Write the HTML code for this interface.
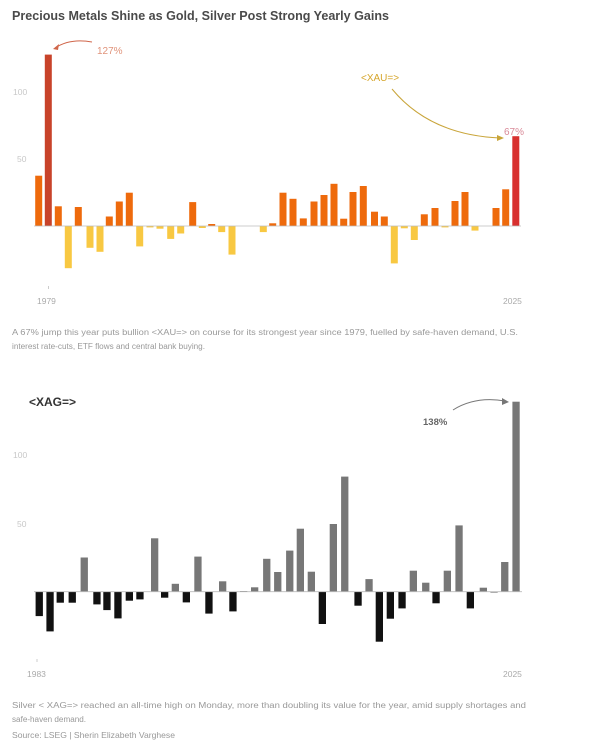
<!DOCTYPE html>
<html><head><meta charset="utf-8"><style>
html,body{margin:0;padding:0;background:#fff;}
svg{display:block;font-family:"Liberation Sans",sans-serif;}
</style></head><body>
<svg width="600" height="753" viewBox="0 0 600 753" xmlns="http://www.w3.org/2000/svg">
<rect width="600" height="753" fill="#fff"/>
<text x="12" y="20" font-size="12.5" font-weight="bold" fill="#4a4a4a" textLength="377" lengthAdjust="spacingAndGlyphs">Precious Metals Shine as Gold, Silver Post Strong Yearly Gains</text>
<text x="13" y="95" font-size="8.5" fill="#c8c8c8">100</text>
<text x="17" y="162" font-size="8.5" fill="#c8c8c8">50</text>
<g id="gtop"></g>
<line x1="34" y1="226" x2="521" y2="226" stroke="#bbb" stroke-width="0.8"/>
<text x="97" y="54" font-size="10" fill="#e0937a">127%</text>
<path d="M92,42 Q70,38 55,48" fill="none" stroke="#d0664a" stroke-width="1"/>
<path d="M53,49 L59,44 L58,50 Z" fill="#d0664a"/>
<text x="361" y="81" font-size="10" fill="#d6a62c">&lt;XAU=&gt;</text>
<path d="M392,89 Q430,135 500,138" fill="none" stroke="#c9a53a" stroke-width="1"/>
<path d="M504,138 L497,135 L497,141 Z" fill="#c9a53a"/>
<text x="504" y="135" font-size="10" fill="#d98a98">67%</text>
<line x1="48.5" y1="286" x2="48.5" y2="289" stroke="#ccc"/>
<text x="37" y="304" font-size="8.5" fill="#aaa">1979</text>
<text x="503" y="304" font-size="8.5" fill="#aaa">2025</text>
<text x="12" y="335" font-size="8" fill="#999" textLength="506" lengthAdjust="spacingAndGlyphs">A 67% jump this year puts bullion &lt;XAU=&gt; on course for its strongest year since 1979, fuelled by safe-haven demand, U.S.</text>
<text x="12" y="349" font-size="8" fill="#999" textLength="193" lengthAdjust="spacingAndGlyphs">interest rate-cuts, ETF flows and central bank buying.</text>

<text x="29" y="406" font-size="12" font-weight="bold" fill="#333">&lt;XAG=&gt;</text>
<text x="13" y="458" font-size="8.5" fill="#c8c8c8">100</text>
<text x="17" y="527" font-size="8.5" fill="#c8c8c8">50</text>
<g id="gbot"></g>
<line x1="34" y1="591.7" x2="522" y2="591.7" stroke="#bbb" stroke-width="0.8"/>
<text x="423" y="425" font-size="9.5" font-weight="bold" fill="#666">138%</text>
<path d="M453,410 Q475,396 505,401" fill="none" stroke="#777" stroke-width="1"/>
<path d="M509,402 L502,398 L502,405 Z" fill="#777"/>
<line x1="37" y1="659" x2="37" y2="662" stroke="#ccc"/>
<text x="27" y="677" font-size="8.5" fill="#aaa">1983</text>
<text x="503" y="677" font-size="8.5" fill="#aaa">2025</text>
<text x="12" y="708" font-size="8" fill="#999" textLength="514" lengthAdjust="spacingAndGlyphs">Silver &lt; XAG=&gt; reached an all-time high on Monday, more than doubling its value for the year, amid supply shortages and</text>
<text x="12" y="722" font-size="8" fill="#999" textLength="74" lengthAdjust="spacingAndGlyphs">safe-haven demand.</text>
<text x="12" y="738" font-size="8.5" fill="#999" textLength="163" lengthAdjust="spacingAndGlyphs">Source: LSEG | Sherin Elizabeth Varghese</text>
</svg>
<script>
(function(){
var ns="http://www.w3.org/2000/svg";
function bars(id,data,base,scale,pos,neg,w){
 var g=document.getElementById(id);
 data.forEach(function(d){
  var x=d[0],v=d[1],r=document.createElementNS(ns,"rect");
  var h=Math.abs(v)*scale;
  r.setAttribute("x",(x-w/2).toFixed(1));
  r.setAttribute("y",(v>=0?base-h:base).toFixed(1));
  r.setAttribute("width",w);r.setAttribute("height",Math.max(h,0.6).toFixed(1));
  r.setAttribute("fill",d[2]||(v>=0?pos:neg));
  g.appendChild(r);
 });
}
var goldData=[[38.7,37],[48.3,126,"#c8432a"],[58.3,14.5],[68.3,-31],[78.3,14],[90,-16],[100,-19],[109.3,7],[119.3,18],[129.3,24.5],[139.7,-15],[150,-1],[160,-2],[170.7,-9.5],[180.7,-5.5],[192.7,17.6],[202.3,-1.5],[211.7,1.5],[221.7,-4.5],[232,-21],[263.3,-4.5],[272.7,2],[283,24.5],[293,20],[303.3,5.6],[314,18],[324,22.8],[334,31],[343.7,5.4],[353,25],[363.3,29.4],[374.5,10.5],[384.3,7],[394.3,-27.5],[404.3,-1.7],[414.3,-10.3],[424.3,8.6],[435,13.2],[445,-1],[455,18.4],[465,25],[475,-3.4],[496,13.2],[505.7,27],[515.8,66,"#d8302f"]];
bars("gtop",goldData,226,1.36,"#ee6a0c","#f8c842",7);
var silverData=[[39.3,-17.8],[50,-29],[60.3,-8],[72.3,-8],[84.3,25],[97,-9.3],[107,-13.4],[118,-19.5],[129.3,-6.6],[140,-5.6],[154.7,39],[164.7,-4.4],[175.3,5.8],[186.3,-7.8],[198,25.6],[209,-16],[222.7,7.6],[233,-14.4],[243.7,0.5],[254.7,3.2],[266.7,24],[277.7,14.4],[289.7,30],[300.3,46],[311.3,14.6],[322.3,-23.6],[333.3,49.4],[344.7,84],[358,-10.2],[369,9.2],[379.3,-36.5],[390.3,-19.7],[402,-12.2],[413.3,15.3],[425.7,6.6],[436,-8.5],[447.3,15.3],[459,48.4],[470.3,-12.2],[483.3,2.9],[494,-0.5],[504.7,21.7],[516,138.7]];
bars("gbot",silverData,591.7,1.37,"#777777","#111111",7.3);
})();
</script>
</body></html>
